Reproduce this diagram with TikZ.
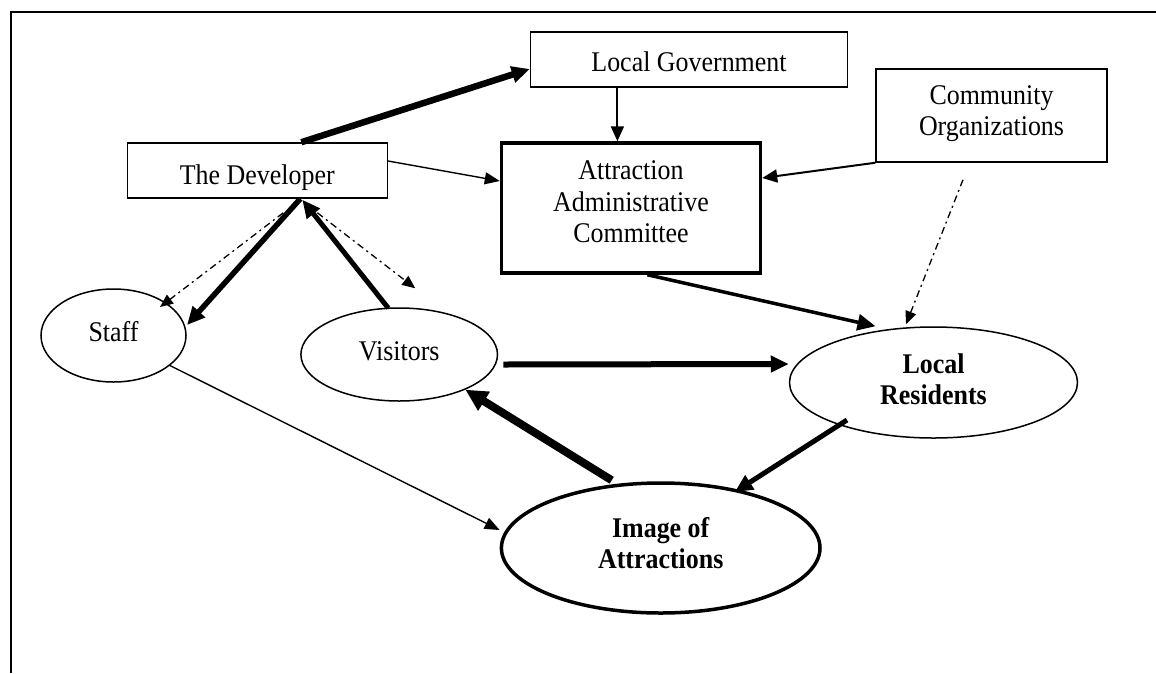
\documentclass[tikz,border=0pt]{standalone}
\usepackage{fontspec}
\setmainfont[FakeStretch=0.91]{Liberation Serif}
\usetikzlibrary{arrows.meta,shapes.geometric,calc}
\begin{document}
\begin{tikzpicture}[x=1pt,y=-1pt,
  every node/.style={font=\fontsize{28.5}{31.5}\selectfont, align=center, inner sep=0pt},
  box/.style={draw, line width=1.5pt, rectangle},
  oval/.style={draw, line width=1.5pt, ellipse},
  boldtext/.style={font=\fontsize{28.5}{31}\selectfont\bfseries},
  thinarr/.style={line width=1.4pt, -{Triangle[length=15pt,width=12pt]}},
  medarr/.style={line width=2pt, -{Triangle[length=15pt,width=13pt]}},
  arr/.style={line width=#1, -{Triangle[length=18pt,width=16pt]}},
  bigarr/.style={line width=8pt, -{Triangle[length=22pt,width=21pt]}},
  dasharr/.style={line width=1.3pt, dash pattern=on 7pt off 4pt on 2pt off 4pt, -{Triangle[length=13pt,width=11pt]}}
]
\useasboundingbox (0,0) rectangle (1156,673);
\draw[line width=2pt] (11,673) -- (11,12) -- (1156,12);

\node[box, minimum width=317pt, minimum height=55pt, text height=24.4pt, text depth=0pt] (lg) at (689,59.5) {Local Government};
\node[box, minimum width=231pt, minimum height=93pt] (co) at (991.5,115.5) {Community\\Organizations\rule[-10pt]{0pt}{0pt}};
\node[box, line width=3.5pt, minimum width=259pt, minimum height=130pt] (aac) at (631,208) {Attraction\\Administrative\\Committee\rule[-12pt]{0pt}{0pt}};
\node[box, minimum width=260pt, minimum height=55pt, text height=27pt, text depth=0pt] (dev) at (257.3,170.5) {The Developer};
\node[oval, minimum width=145pt, minimum height=93pt, text height=19pt, text depth=6.6pt] (staff) at (113.5,335.5) {Staff};
\node[oval, minimum width=196.6pt, minimum height=93pt, text height=19pt, text depth=6.6pt] (vis) at (399.2,354.5) {Visitors};
\node[oval, boldtext, minimum width=288pt, minimum height=111pt] (lr) at (933.5,382.5) {Local\\Residents\rule[-7.3pt]{0pt}{0pt}};
\node[oval, boldtext, line width=3.5pt, minimum width=318.6pt, minimum height=130pt] (ioa) at (660.7,548) {Image of\\Attractions\rule[-10.7pt]{0pt}{0pt}};

\draw[arr=6.5pt] ($(dev.north)+(44,0)$) -- ($(lg.west)+(0,9.5)$);
\draw[thinarr] ($(dev.east)+(0,-9.5)$) -- ($(aac.west)+(0,-27)$);
\draw[medarr] ($(lg.south)+(-71.6,0)$) -- ($(aac.north)+(-13.6,0)$);
\draw[medarr] (co.south west) -- ($(aac.east)+(0,-30)$);
\draw[arr=3.5pt] ($(aac.south)+(16.4,0)$) -- ($(lr.north)+(-58,0)$);
\draw[dasharr] ($(co.south)+(-28.5,17)$) -- ($(lr.north)+(-27.5,-2)$);
\draw[arr=5.5pt] ($(dev.south)+(43,0)$) -- ($(staff.center)+(73.5,-10.5)$);
\draw[arr=5pt] ($(vis.center)+(-11,-46.5)$) -- ($(dev.south)+(45,1)$);
\draw[dasharr] ($(dev.south)+(26,14)$) -- ($(staff.center)+(46.5,-28.5)$);
\draw[dasharr] ($(dev.south)+(60,14)$) -- ($(vis.north)+(16,-19)$);
\draw[arr=6pt] ($(vis.east)+(5,10)$) -- ($(lr.west)+(0,-18.5)$);
\draw[bigarr] ($(ioa.north)+(-49,-1)$) -- (vis.-28);
\draw[arr=5pt] ($(lr.center)+(-86.5,37.5)$) -- ($(ioa.center)+(74,-56)$);
\draw[thinarr] (staff.-28) -- ($(ioa.west)+(0,-18)$);
\end{tikzpicture}
\end{document}
